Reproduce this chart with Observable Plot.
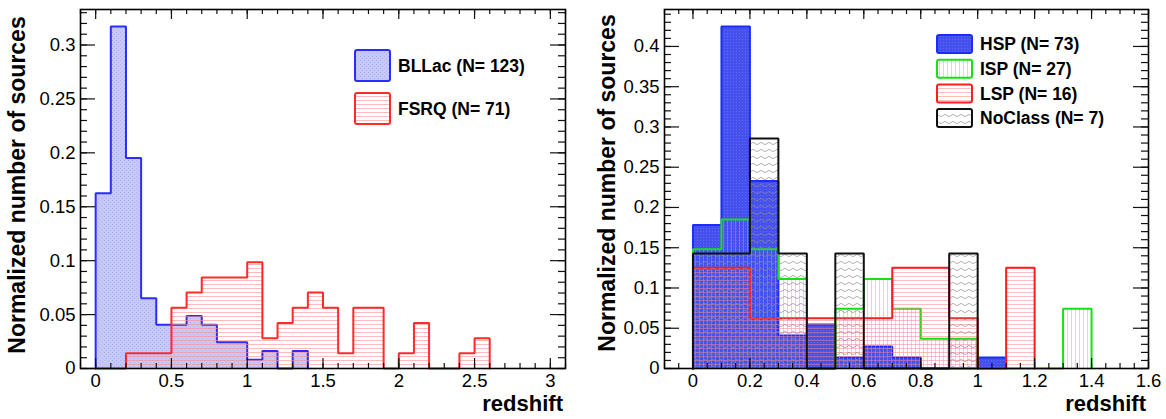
<!DOCTYPE html>
<html><head><meta charset="utf-8">
<script src="https://cdn.jsdelivr.net/npm/d3@7"></script>
<script src="https://cdn.jsdelivr.net/npm/@observablehq/plot@0.6"></script>
<style>
html,body{margin:0;padding:0;background:#fff;}
#wrap{display:flex;width:1166px;height:419px;}
#wrap svg{display:block;}
</style></head><body>
<svg id="defs" width="0" height="0" style="position:absolute;left:0;top:0"></svg>
<div id="wrap"></div>
<script>
// ---------- data (counts per 0.1-wide redshift bin, starting at z = 0) ----------
const binWidth = 0.1;
const bllacCounts = [20, 39, 24, 8, 5, 5, 6, 5, 3, 3, 1, 2, 0, 2];
const bllacN = 123;
const fsrqCounts = [0, 0, 1, 1, 1, 4, 5, 6, 6, 6, 7, 2, 3, 4, 5, 4, 1, 4, 4, 0, 1, 3, 0, 0, 1, 2];
const fsrqN = 71;
const hspCounts = [13, 31, 17, 3, 4, 1, 2, 1, 0, 0, 1];
const hspN = 73;
const ispCounts = [4, 5, 4, 3, 0, 2, 3, 2, 1, 1, 0, 0, 0, 2];
const ispN = 27;
const lspCounts = [2, 2, 1, 1, 1, 1, 1, 2, 2, 1, 0, 2];
const lspN = 16;
const ncCounts = [1, 1, 2, 1, 0, 1, 0, 0, 0, 1];
const ncN = 7;

const leftNames = ["BLLac", "FSRQ"];
const rightNames = ["HSP", "ISP", "LSP", "NoClass"];

const xTicksLeft = [0, 0.5, 1, 1.5, 2, 2.5, 3];
const yTicksLeft = [0, 0.05, 0.1, 0.15, 0.2, 0.25, 0.3];
const xTicksRight = [0, 0.2, 0.4, 0.6, 0.8, 1, 1.2, 1.4, 1.6];
const yTicksRight = [0, 0.05, 0.1, 0.15, 0.2, 0.25, 0.3, 0.35, 0.4];
const xLabel = "redshift";
const yLabel = "Normalized number of sources";

// ---------- patterns ----------
const defs = d3.select("#defs").append("defs");
function pat(id, w, h, build) {
  const p = defs.append("pattern").attr("id", id).attr("patternUnits", "userSpaceOnUse")
    .attr("width", w).attr("height", h);
  build(p);
}
pat("pBLL", 4, 4, p => {
  p.append("rect").attr("width", 4).attr("height", 4).attr("fill", "#c6c8fa");
  p.append("rect").attr("width", 1).attr("height", 1).attr("fill", "#aeb1f4");
  p.append("rect").attr("x", 2).attr("y", 2).attr("width", 1).attr("height", 1).attr("fill", "#aeb1f4");
});
pat("pFSRQ", 4, 4, p => {
  p.append("line").attr("x1", 0).attr("x2", 4).attr("y1", 0.5).attr("y2", 0.5).attr("stroke", "#ff8c8c").attr("stroke-opacity", 0.6).attr("stroke-width", 1);
});
pat("pHSP", 3, 3, p => {
  p.append("rect").attr("width", 3).attr("height", 3).attr("fill", "#4650ec");
  p.append("rect").attr("width", 1).attr("height", 1).attr("fill", "#5f68f2");
});
pat("pISP", 4, 4, p => {
  p.append("line").attr("x1", 0.5).attr("x2", 0.5).attr("y1", 0).attr("y2", 4).attr("stroke", "#5fe05f").attr("stroke-opacity", 0.45).attr("stroke-width", 1);
});
pat("pLSP", 4, 4, p => {
  p.append("line").attr("x1", 0).attr("x2", 4).attr("y1", 0.5).attr("y2", 0.5).attr("stroke", "#ff7e7e").attr("stroke-opacity", 0.5).attr("stroke-width", 1);
});
pat("pNC", 8, 7, p => {
  p.append("path").attr("d", "M0 3.5 Q2 1.2 4 3.5 T8 3.5").attr("fill", "none").attr("stroke", "#8a8a8a").attr("stroke-opacity", 0.75).attr("stroke-width", 0.9);
});

// ---------- helpers ----------
function bins(counts, N) {
  return counts.map((c, i) => ({x1: i * binWidth, x2: (i + 1) * binWidth, y: c / N})).filter(d => d.y > 0);
}
function outline(counts, N) {
  const pts = [{x: 0, y: 0}];
  counts.forEach((c, i) => { pts.push({x: i * binWidth, y: c / N}, {x: (i + 1) * binWidth, y: c / N}); });
  pts.push({x: counts.length * binWidth, y: 0});
  return pts;
}
function seriesMarks(s) {
  return [
    Plot.rect(bins(s.counts, s.N), {x1: "x1", x2: "x2", y1: 0, y2: "y", fill: s.fill, shapeRendering: "crispEdges"}),
    Plot.line(outline(s.counts, s.N), {x: "x", y: "y", stroke: s.stroke, strokeWidth: 2, strokeLinejoin: "miter"})
  ];
}
function tickMarks(xMinor, xMajor, yMinor, yMajor, innerW, innerH) {
  const st = {stroke: "#111", strokeWidth: 1.2};
  return [
    Plot.ruleX(xMinor, {...st, insetTop: innerH - 5}),
    Plot.ruleX(xMinor, {...st, insetBottom: innerH - 5}),
    Plot.ruleX(xMajor, {...st, insetTop: innerH - 10}),
    Plot.ruleX(xMajor, {...st, insetBottom: innerH - 10}),
    Plot.ruleY(yMinor, {...st, insetRight: innerW - 7}),
    Plot.ruleY(yMinor, {...st, insetLeft: innerW - 7}),
    Plot.ruleY(yMajor, {...st, insetRight: innerW - 15}),
    Plot.ruleY(yMajor, {...st, insetLeft: innerW - 15}),
    Plot.frame({stroke: "#000", strokeWidth: 1.6})
  ];
}
const FONT = "'Liberation Sans', Arial, Helvetica, sans-serif";
function panel(cfg) {
  const W = 583, H = 419, mt = 9, mb = 51;
  const innerW = W - cfg.ml - cfg.mr, innerH = H - mt - mb;
  const yMax = d3.max(cfg.series, s => d3.max(s.counts) / s.N) * 1.05;
  const svg = Plot.plot({
    width: W, height: H, marginLeft: cfg.ml, marginRight: cfg.mr, marginTop: mt, marginBottom: mb,
    style: {fontFamily: FONT, fontSize: "18.5px", color: "#000", background: "transparent", overflow: "visible"},
    x: {domain: cfg.xDomain, ticks: cfg.xTicks, tickFormat: d => String(d), tickSize: 0, tickPadding: 5, label: null},
    y: {domain: [0, yMax], ticks: cfg.yTicks, tickFormat: d => String(d), tickSize: 0, tickPadding: 5, label: null},
    marks: [
      ...cfg.series.flatMap(seriesMarks),
      ...tickMarks(cfg.xMinor, cfg.xTicks, cfg.yMinor, cfg.yTicks, innerW, innerH)
    ]
  });
  const g = d3.select(svg).append("g").style("font-family", FONT).style("font-weight", "bold")
    .attr("fill", "#000").attr("text-anchor", "start");
  g.append("text").attr("transform", `translate(${cfg.yLabX},${cfg.yLabY}) rotate(-90)`)
    .attr("text-anchor", "middle").style("font-size", "23px").text(yLabel);
  g.append("text").attr("x", W - cfg.mr - 2).attr("y", 411).attr("text-anchor", "end")
    .style("font-size", "22px").text(xLabel);
  const L = cfg.legend;
  cfg.series.forEach((s, i) => {
    const y = L.y + i * L.dy;
    g.append("rect").attr("x", L.x).attr("y", y).attr("width", L.w).attr("height", L.h).attr("rx", 2)
      .attr("fill", s.fill).attr("stroke", s.stroke).attr("stroke-width", 2);
    g.append("text").attr("x", L.x + L.w + 8).attr("y", y + L.h / 2).attr("dy", "0.36em")
      .attr("text-anchor", "start").style("font-size", "17.5px").text(`${s.name} (N= ${s.N})`);
  });
  document.getElementById("wrap").appendChild(svg);
}

panel({
  ml: 80, mr: 18,
  xDomain: [-0.1, 3.1], xTicks: xTicksLeft, yTicks: yTicksLeft,
  xMinor: d3.range(-1, 32).map(i => i / 10), yMinor: d3.range(0, 34).map(i => i / 100),
  yLabX: 25, yLabY: 185,
  legend: {x: 355, y: 50, w: 35, h: 31, dy: 43},
  series: [
    {name: leftNames[0], counts: bllacCounts, N: bllacN, fill: "url(#pBLL)", stroke: "#2c2cff"},
    {name: leftNames[1], counts: fsrqCounts, N: fsrqN, fill: "url(#pFSRQ)", stroke: "#ff2a2a"}
  ]
});
panel({
  ml: 81, mr: 18,
  xDomain: [-0.1, 1.6], xTicks: xTicksRight, yTicks: yTicksRight,
  xMinor: d3.range(-2, 33).map(i => i / 20), yMinor: d3.range(0, 45).map(i => i / 100),
  yLabX: 32, yLabY: 183,
  legend: {x: 354, y: 35, w: 35, h: 18, dy: 24.7},
  series: [
    {name: rightNames[0], counts: hspCounts, N: hspN, fill: "url(#pHSP)", stroke: "#1a2cff"},
    {name: rightNames[1], counts: ispCounts, N: ispN, fill: "url(#pISP)", stroke: "#16e016"},
    {name: rightNames[2], counts: lspCounts, N: lspN, fill: "url(#pLSP)", stroke: "#ff1e1e"},
    {name: rightNames[3], counts: ncCounts, N: ncN, fill: "url(#pNC)", stroke: "#111"}
  ]
});
</script>
</body></html>
